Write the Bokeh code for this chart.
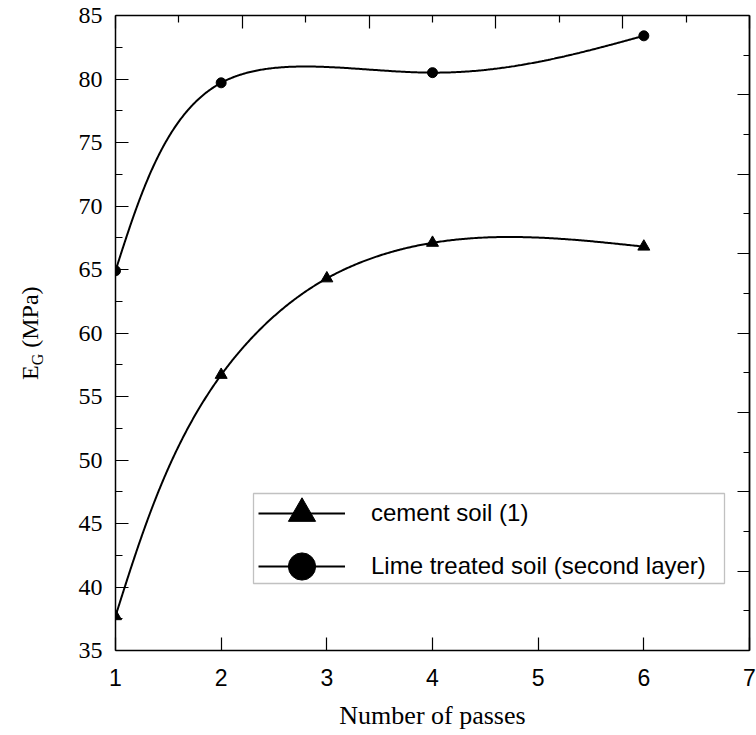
import numpy as np
from bokeh.plotting import figure
from bokeh.models import (Range1d, LinearAxis, FixedTicker, Legend, LegendItem,
                          BoxAnnotation, Div, CustomLabelingPolicy)
from bokeh.layouts import row
from bokeh.embed import file_html
from bokeh.resources import INLINE

# ---- data ----
passes_cement = [1, 2, 3, 4, 6]
eg_cement = [37.7, 56.7, 64.3, 67.1, 66.8]
passes_lime = [1, 2, 4, 6]
eg_lime = [64.9, 79.7, 80.5, 83.4]
label_cement = "cement soil (1)"
label_lime = "Lime treated soil (second layer)"
x_ticks = [1, 2, 3, 4, 5, 6, 7]
y_ticks = [35, 40, 45, 50, 55, 60, 65, 70, 75, 80, 85]
y_minor = [37.5, 42.5, 47.5, 52.5, 57.5, 62.5, 67.5, 72.5, 77.5, 82.5]

W, H = 756, 735
DIV_W = 60
BL, BR, BT, BB = 55, 7, 15, 85
X0, X1, Y0, Y1 = 1, 7, 35, 85
FW, FH = W - DIV_W - BL - BR, H - BT - BB


def natural_cubic(t, v, tt):
    t = np.asarray(t, float); v = np.asarray(v, float)
    n = len(t)
    h = np.diff(t)
    A = np.zeros((n, n)); b = np.zeros(n)
    A[0, 0] = 1; A[-1, -1] = 1
    for i in range(1, n - 1):
        A[i, i - 1] = h[i - 1]; A[i, i] = 2 * (h[i - 1] + h[i]); A[i, i + 1] = h[i]
        b[i] = 6 * ((v[i + 1] - v[i]) / h[i] - (v[i] - v[i - 1]) / h[i - 1])
    M = np.linalg.solve(A, b)
    idx = np.clip(np.searchsorted(t, tt) - 1, 0, n - 2)
    t0 = t[idx]; t1 = t[idx + 1]; hh = t1 - t0
    a = t1 - tt; c = tt - t0
    return (M[idx] * a ** 3 / (6 * hh) + M[idx + 1] * c ** 3 / (6 * hh)
            + (v[idx] / hh - M[idx] * hh / 6) * a + (v[idx + 1] / hh - M[idx + 1] * hh / 6) * c)


def smooth(xs, ys):
    xs = np.asarray(xs, float); ys = np.asarray(ys, float)
    sx = FW / (X1 - X0); sy = FH / (Y1 - Y0)
    d = np.hypot(np.diff(xs) * sx, np.diff(ys) * sy)
    t = np.concatenate([[0], np.cumsum(d)])
    tt = np.linspace(0, t[-1], 500)
    return natural_cubic(t, xs, tt), natural_cubic(t, ys, tt)


p = figure(width=W - DIV_W, height=H, x_range=Range1d(X0, X1), y_range=Range1d(Y0, Y1),
           output_backend="svg", toolbar_location=None,
           min_border_left=BL, min_border_right=BR, min_border_top=BT, min_border_bottom=BB)
p.grid.visible = False
p.outline_line_color = None
p.background_fill_color = "white"
p.border_fill_color = "white"

p.extra_x_ranges = {"top": Range1d(0, 10)}
p.extra_y_ranges = {"right": Range1d(0, 16)}

no_labels = CustomLabelingPolicy(code="for (const i of indices) indices.unset(i)")

# bottom axis
xa = p.xaxis[0]
xa.ticker = FixedTicker(ticks=x_ticks, minor_ticks=[])
xa.major_tick_in = 13; xa.major_tick_out = 0
xa.minor_tick_in = 0; xa.minor_tick_out = 0
xa.axis_line_width = 1.5; xa.axis_line_color = "black"; xa.major_tick_line_color = "black"
xa.major_tick_line_width = 1.2
xa.major_label_text_font = "Liberation Sans"; xa.major_label_text_font_size = "23px"
xa.major_label_text_color = "black"; xa.major_label_standoff = 18
xa.axis_label = "Number of passes"
xa.axis_label_text_font = "Liberation Serif"; xa.axis_label_text_font_size = "26px"
xa.axis_label_text_font_style = "normal"; xa.axis_label_text_color = "black"
xa.axis_label_standoff = 12

# left axis
ya = p.yaxis[0]
ya.ticker = FixedTicker(ticks=y_ticks, minor_ticks=y_minor)
ya.major_tick_in = 13; ya.major_tick_out = 0
ya.minor_tick_in = 7; ya.minor_tick_out = 0
ya.axis_line_width = 1.5; ya.axis_line_color = "black"
ya.major_tick_line_color = "black"; ya.minor_tick_line_color = "black"
ya.major_tick_line_width = 1.2; ya.minor_tick_line_width = 1.2
ya.major_label_text_font = "Liberation Serif"; ya.major_label_text_font_size = "24px"
ya.major_label_text_color = "black"; ya.major_label_standoff = 13

# top axis (ticks only)
ta = LinearAxis(x_range_name="top",
                ticker=FixedTicker(ticks=[0, 2, 4, 6, 8, 10], minor_ticks=[1, 3, 5, 7, 9]))
ta.major_tick_in = 13; ta.major_tick_out = 0; ta.minor_tick_in = 7; ta.minor_tick_out = 0
ta.major_label_text_font_size = "0px"; ta.major_label_standoff = 0
ta.major_label_policy = no_labels
ta.axis_line_width = 1.5; ta.axis_line_color = "black"
ta.major_tick_line_color = "black"; ta.minor_tick_line_color = "black"
ta.major_tick_line_width = 1.2; ta.minor_tick_line_width = 1.2
p.add_layout(ta, "above")

# right axis (ticks only)
ra = LinearAxis(y_range_name="right",
                ticker=FixedTicker(ticks=list(range(0, 17, 2)), minor_ticks=list(range(1, 16, 2))))
ra.major_tick_in = 12; ra.major_tick_out = 0; ra.minor_tick_in = 6; ra.minor_tick_out = 0
ra.major_label_text_font_size = "0px"; ra.major_label_standoff = 0
ra.major_label_policy = no_labels
ra.axis_line_width = 1.8; ra.axis_line_color = "black"
ra.major_tick_line_color = "black"; ra.minor_tick_line_color = "black"
ra.major_tick_line_width = 1.2; ra.minor_tick_line_width = 1.2
p.add_layout(ra, "right")

# curves and markers
cx, cy = smooth(passes_cement, eg_cement)
lx, ly = smooth(passes_lime, eg_lime)
l1 = p.line(cx, cy, line_color="black", line_width=2)
s1 = p.scatter(passes_cement, eg_cement, marker="triangle", size=12, color="black")
l2 = p.line(lx, ly, line_color="black", line_width=2)
s2 = p.scatter(passes_lime, eg_lime, marker="circle", size=10, color="black")

legend_style = dict(glyph_width=87, glyph_height=68, spacing=0, padding=0,
                    label_standoff=26, border_line_alpha=0, background_fill_alpha=0,
                    label_text_font="Liberation Sans", label_text_font_size="24px",
                    label_text_color="black")
leg1 = Legend(items=[LegendItem(label=label_cement, renderers=[l1, s1])],
              location=(143, 103), **legend_style)
leg2 = Legend(items=[LegendItem(label=label_lime, renderers=[l2, s2])],
              location=(143, 50), **legend_style)
p.add_layout(leg1)
p.add_layout(leg2)

box = BoxAnnotation(left=138, right=609, bottom=67, top=157,
                    left_units="screen", right_units="screen",
                    top_units="screen", bottom_units="screen",
                    fill_alpha=0, line_color="#333333", line_width=1.3)
p.add_layout(box)

# y axis title with subscript (HTML text, rotated)
ytitle = ('<div style="position:relative; left:18px; top:380px; transform:rotate(-90deg); '
          'transform-origin:0 0; white-space:nowrap; line-height:24px; '
          'font-family:\'Liberation Serif\'; font-size:24px; color:black;">'
          'E<span style="font-size:16px; position:relative; top:5px;">G</span> (MPa)</div>')
div = Div(text=ytitle, width=DIV_W, height=H, margin=0)

layout = row(div, p, spacing=0)
open("out.html", "w").write(file_html(layout, INLINE))
